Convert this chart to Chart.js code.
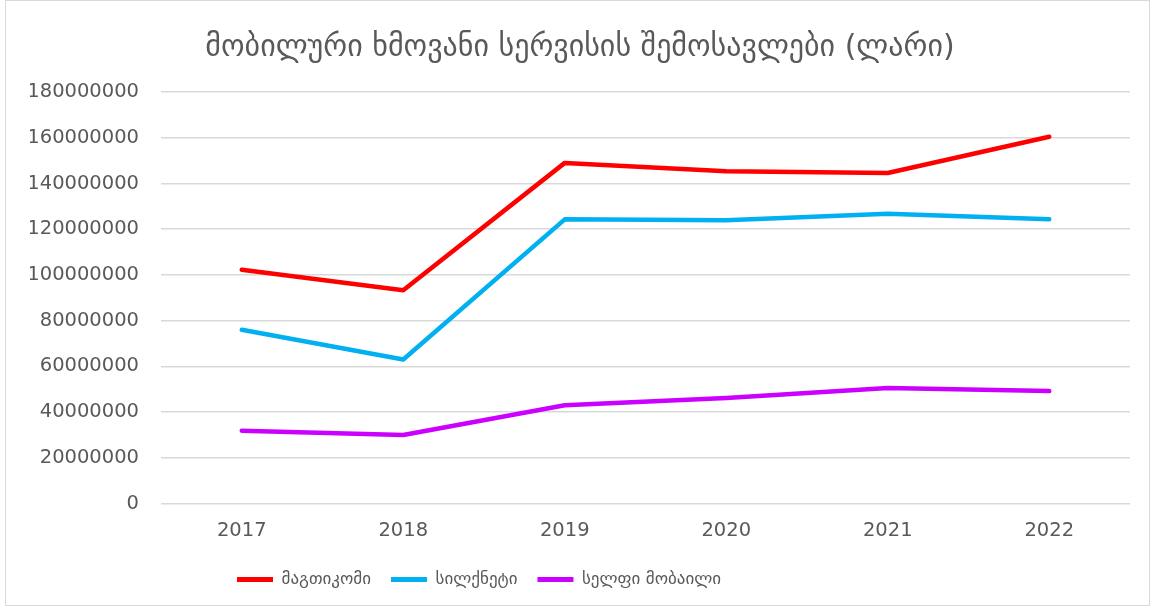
<!DOCTYPE html>
<html>
<head>
<meta charset="utf-8">
<script src="https://cdn.jsdelivr.net/npm/chart.js@4.4.0/dist/chart.umd.min.js"></script>
<style>
  html, body { margin: 0; padding: 0; background: #fff; }
  #wrap { position: relative; width: 1156px; height: 610px; }
  #frame { position: absolute; left: 5px; top: 0px; width: 1145px; height: 606px; border: 1px solid #d9d9d9; box-sizing: border-box; pointer-events: none; }
  canvas { display: block; }
</style>
</head>
<body>
<div id="wrap">
  <canvas id="c" width="1156" height="610"></canvas>
  <div id="frame"></div>
</div>
<script>
const title = "მობილური ხმოვანი სერვისის შემოსავლები (ლარი)";
const years = ["2017", "2018", "2019", "2020", "2021", "2022"];
const seriesNames = ["მაგთიკომი", "სილქნეტი", "სელფი მობაილი"];
const magticom = [102300000, 93300000, 149000000, 145300000, 144600000, 160400000];
const silknet  = [76000000, 63000000, 124300000, 123900000, 126800000, 124400000];
const selfie   = [31900000, 30000000, 43000000, 46200000, 50600000, 49200000];
const yTicks = [0, 20000000, 40000000, 60000000, 80000000, 100000000, 120000000, 140000000, 160000000, 180000000];
const colors = ["#FF0000", "#00B0F0", "#CC00FF"];

const fontFam = "'DejaVu Sans', sans-serif";
const geoFam = "'DejaVu Sans', sans-serif";

// shifts the drawn legend to the reference position (left-started)
const legendShift = {
  id: 'legendShift',
  beforeDraw(chart) {
    const lg = chart.legend;
    if (!lg) return;
    const w = lg.right - lg.left;
    const pad = lg.options.labels.padding;
    lg.left = 237 - pad;
    lg.right = lg.left + w;
    const h = lg.bottom - lg.top;
    lg.top = 571 - pad;
    lg.bottom = lg.top + h;
  }
};

new Chart(document.getElementById('c'), {
  type: 'line',
  data: {
    labels: years,
    datasets: [magticom, silknet, selfie].map((d, i) => ({
      label: seriesNames[i],
      data: d,
      borderColor: colors[i],
      backgroundColor: colors[i],
      borderWidth: 4.5,
      pointRadius: 0,
      pointHoverRadius: 0,
      tension: 0,
      borderCapStyle: 'round',
      borderJoinStyle: 'round',
      fill: false
    }))
  },
  options: {
    responsive: false,
    animation: false,
    layout: { padding: { left: 30, right: 26, top: 0, bottom: 4 } },
    plugins: {
      title: {
        display: true,
        text: title,
        color: '#595959',
        font: { family: geoFam, size: 30, weight: 'normal' },
        padding: { top: 30, bottom: 26 }
      },
      legend: {
        display: true,
        position: 'bottom',
        align: 'start',
        labels: {
          color: '#595959',
          font: { family: geoFam, size: 17 },
          boxWidth: 36,
          boxHeight: 5,
          padding: 20,
          generateLabels(chart) {
            return chart.data.datasets.map((ds, i) => ({
              text: ds.label,
              fillStyle: ds.borderColor,
              strokeStyle: ds.borderColor,
              lineWidth: 0,
              hidden: false,
              datasetIndex: i,
              fontColor: '#595959'
            }));
          }
        }
      },
      tooltip: { enabled: false }
    },
    scales: {
      x: {
        offset: true,
        grid: { display: false, drawTicks: false },
        border: { display: false },
        ticks: { color: '#595959', font: { family: fontFam, size: 19.5 }, padding: 16 }
      },
      y: {
        min: 0,
        max: 180000000,
        afterBuildTicks(axis) { axis.ticks = yTicks.map(v => ({ value: v })); },
        afterFit(scale) { scale.width = 131; },
        grid: { color: '#d9d9d9', lineWidth: 1.5, drawTicks: false },
        border: { display: false },
        ticks: {
          color: '#595959',
          font: { family: fontFam, size: 19.5 },
          padding: 22,
          callback: (v) => String(v)
        }
      }
    }
  },
  plugins: [legendShift]
});
</script>
</body>
</html>
